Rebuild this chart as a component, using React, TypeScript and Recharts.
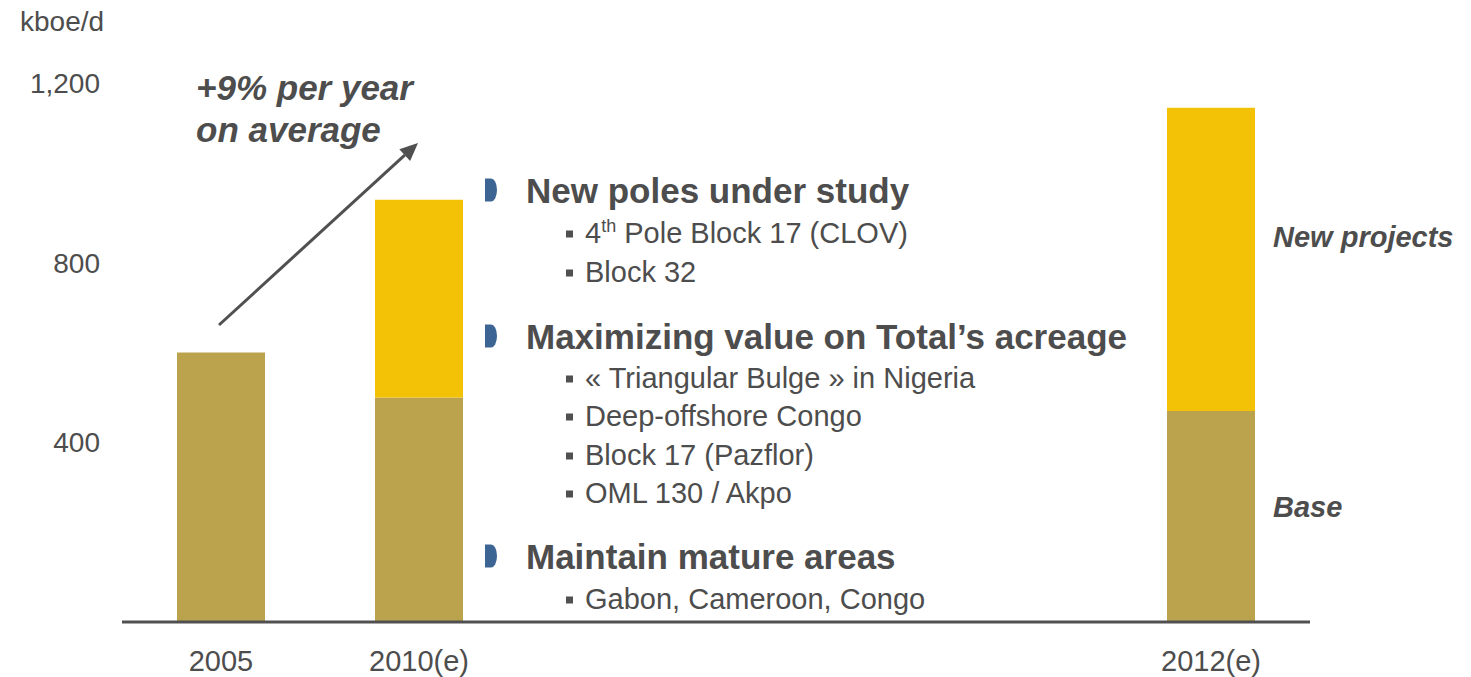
import { BarChart, Bar, XAxis, YAxis } from 'recharts'

const YEARS = ['2005', '2010(e)', '', '', '', '2012(e)']
const BASE = [600, 500, null, null, null, 470]
const NEW_PROJECTS = [0, 440, null, null, null, 675]
const Y_TICKS = [400, 800, 1200]

const data = YEARS.map((year, i) => ({ year, base: BASE[i], newProjects: NEW_PROJECTS[i] }))

const FONT = '"Liberation Sans", Arial, sans-serif'
const TEXT = '#4d4d4d'
const BASE_COLOR = '#bba34e'
const NEW_COLOR = '#f3c106'

const SECTIONS = [
  { title: 'New poles under study', y: 190, items: [['4', 'th', ' Pole Block 17 (CLOV)'], ['Block 32']], itemY: [233, 272] },
  {
    title: 'Maximizing value on Total\u2019s acreage',
    y: 336,
    items: [['\u00ab Triangular Bulge \u00bb in Nigeria'], ['Deep-offshore Congo'], ['Block 17 (Pazflor)'], ['OML 130 / Akpo']],
    itemY: [378, 416, 455, 493],
  },
  { title: 'Maintain mature areas', y: 556, items: [['Gabon, Cameroon, Congo']], itemY: [599] },
]

// growth arrow annotation, page pixels
const ARROW = { x1: 219, y1: 325, x2: 418, y2: 143 }

const arrowHead = () => {
  const { x1, y1, x2, y2 } = ARROW
  const ang = Math.atan2(y2 - y1, x2 - x1)
  const len = 18
  const w = 8
  const bx = x2 - len * Math.cos(ang)
  const by = y2 - len * Math.sin(ang)
  const nx = -Math.sin(ang) * w
  const ny = Math.cos(ang) * w
  return { bx, by, pts: `${x2},${y2} ${bx + nx},${by + ny} ${bx - nx},${by - ny}` }
}

const at = (x: number, y: number) => ({
  position: 'absolute' as const,
  left: x,
  top: y,
  transform: 'translateY(-50%)',
  whiteSpace: 'nowrap' as const,
  lineHeight: 1,
})

export default function App() {
  const head = arrowHead()
  return (
    <div style={{ position: 'absolute', left: 0, top: 0, width: 1471, height: 677, fontFamily: FONT, color: TEXT, background: '#fff' }}>
      <BarChart width={1471} height={677} data={data} margin={{ top: 83, right: 161, bottom: 0, left: 0 }}>
        <XAxis
          dataKey="year"
          height={55}
          tickLine={false}
          tickSize={0}
          tickMargin={28}
          axisLine={{ stroke: '#505050', strokeWidth: 3 }}
          tick={{ fill: TEXT, fontSize: 29, fontFamily: FONT }}
          interval={0}
        />
        <YAxis
          width={122}
          domain={[0, 1200]}
          ticks={Y_TICKS}
          axisLine={false}
          tickLine={false}
          tickSize={0}
          tickMargin={22}
          tickFormatter={(v: number) => v.toLocaleString('en-US')}
          tick={{ fill: TEXT, fontSize: 28, fontFamily: FONT }}
        />
        <Bar dataKey="base" stackId="a" fill={BASE_COLOR} barSize={88} isAnimationActive={false} />
        <Bar dataKey="newProjects" stackId="a" fill={NEW_COLOR} barSize={88} isAnimationActive={false} />
      </BarChart>

      <svg width={1471} height={677} style={{ position: 'absolute', left: 0, top: 0, pointerEvents: 'none' }}>
        <line x1={ARROW.x1} y1={ARROW.y1} x2={head.bx} y2={head.by} stroke="#505050" strokeWidth={3} />
        <polygon points={head.pts} fill="#505050" />
      </svg>

      <div style={{ ...at(20, 22), fontSize: 28 }}>kboe/d</div>

      <div style={{ position: 'absolute', left: 196, top: 67, fontSize: 35, fontWeight: 'bold', fontStyle: 'italic', lineHeight: '42px', whiteSpace: 'nowrap' }}>
        +9% per year
        <br />
        on average
      </div>

      <div style={{ ...at(1273, 237), fontSize: 29, fontWeight: 'bold', fontStyle: 'italic' }}>New projects</div>
      <div style={{ ...at(1273, 507), fontSize: 29, fontWeight: 'bold', fontStyle: 'italic' }}>Base</div>

      {SECTIONS.map((s) => (
        <div key={s.title}>
          <div style={{ ...at(485, s.y), width: 12, height: 23, background: '#3d6594', borderRadius: '0 50% 50% 0' }} />
          <div style={{ ...at(526, s.y), fontSize: 35, fontWeight: 'bold' }}>{s.title}</div>
          {s.items.map((it, j) => (
            <div key={j}>
              <div style={{ ...at(566, s.itemY[j] + 1), width: 7, height: 7, background: '#505050' }} />
              <div style={{ ...at(585, s.itemY[j]), fontSize: 29 }}>
                {it.length === 3 ? (
                  <>
                    {it[0]}
                    <sup style={{ fontSize: 18, verticalAlign: 'top', position: 'relative', top: -2 }}>{it[1]}</sup>
                    {it[2]}
                  </>
                ) : (
                  it[0]
                )}
              </div>
            </div>
          ))}
        </div>
      ))}
    </div>
  )
}
